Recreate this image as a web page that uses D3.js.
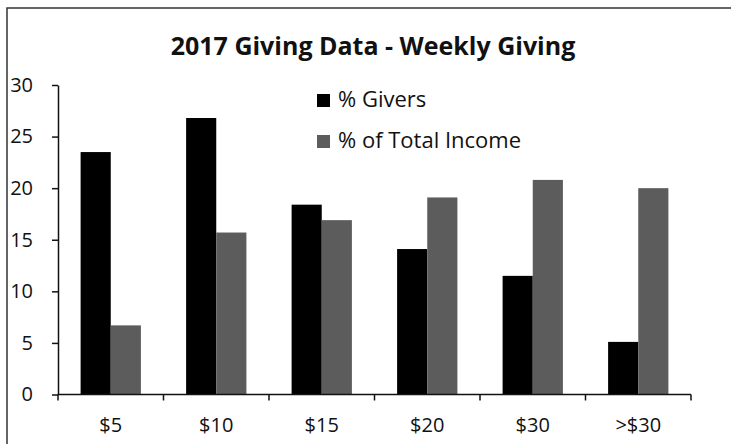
<!DOCTYPE html>
<html>
<head>
<meta charset="utf-8">
<script src="https://cdn.jsdelivr.net/npm/d3@7"></script>
<style>
  body { margin: 0; background: #fff; }
  svg { display: block; font-family: "Open Sans", sans-serif; }
  .axis path, .axis line { stroke: #111; stroke-width: 1.5px; }
  .axis text { font-family: "Open Sans", sans-serif; font-size: 20px; fill: #111; }
</style>
</head>
<body>
<svg class="giving-chart"></svg>
<script>
var categories = ["$5", "$10", "$15", "$20", "$30", ">$30"];
var seriesNames = ["% Givers", "% of Total Income"];
var givers = [23.5, 26.8, 18.4, 14.1, 11.5, 5.1];
var income = [6.7, 15.7, 16.9, 19.1, 20.8, 20.0];
var yTicks = [0, 5, 10, 15, 20, 25, 30];
var colors = ["#000000", "#5c5c5c"];

drawGiving();

function drawGiving() {
  var width = 731, height = 444;
  var left = 58, right = 691, top = 85, bottom = 394.5;

  var svg = d3.select(".giving-chart")
    .attr("width", width)
    .attr("height", height);

  // frame (scan shows only top and left edges)
  svg.append("path")
    .attr("d", "M7,444V8H731")
    .attr("fill", "none")
    .attr("stroke", "#333")
    .attr("stroke-width", 1.5);

  var x = d3.scaleBand().domain(categories).range([left, right]);
  var x1 = d3.scaleBand().domain(seriesNames).range([0, x.bandwidth()])
    .paddingInner(0).paddingOuter(0.75);
  var y = d3.scaleLinear().domain([0, 30]).range([bottom, top]);

  var rows = categories.map(function(c, i) {
    return { cat: c, values: [givers[i], income[i]] };
  });

  var groups = svg.append("g").selectAll("g")
    .data(rows)
    .enter().append("g")
    .attr("transform", function(d) { return "translate(" + x(d.cat) + ",0)"; });

  groups.selectAll("rect")
    .data(function(d) { return d.values.map(function(v, j) { return { s: seriesNames[j], v: v, j: j }; }); })
    .enter().append("rect")
    .attr("x", function(d) { return x1(d.s); })
    .attr("width", x1.bandwidth())
    .attr("y", function(d) { return y(d.v); })
    .attr("height", function(d) { return y(0) - y(d.v); })
    .attr("fill", function(d) { return colors[d.j]; });

  // y axis
  svg.append("g")
    .attr("class", "axis")
    .attr("transform", "translate(" + left + ",0)")
    .call(d3.axisLeft(y).tickValues(yTicks).tickSize(6).tickSizeOuter(0).tickPadding(19));

  // x axis: labels centred, ticks on category boundaries
  var xAxis = svg.append("g")
    .attr("class", "axis")
    .attr("transform", "translate(0," + bottom + ")")
    .call(d3.axisBottom(x).tickSize(0).tickPadding(23));
  xAxis.select(".domain").attr("d", "M" + left + ",0H" + right);

  var bounds = categories.map(function(c) { return x(c); }).concat([x(categories[categories.length - 1]) + x.bandwidth()]);
  xAxis.selectAll(".bound")
    .data(bounds)
    .enter().append("line")
    .attr("class", "bound")
    .attr("x1", function(d) { return d; })
    .attr("x2", function(d) { return d; })
    .attr("y1", 0)
    .attr("y2", 6);

  // title
  svg.append("text")
    .attr("x", 373)
    .attr("y", 55)
    .attr("text-anchor", "middle")
    .style("font-size", "25px")
    .style("font-weight", "bold")
    .attr("fill", "#111")
    .text("2017 Giving Data - Weekly Giving");

  // legend
  var legend = svg.append("g").selectAll("g")
    .data(seriesNames)
    .enter().append("g")
    .attr("transform", function(d, i) { return "translate(317," + (94 + i * 41) + ")"; });

  legend.append("rect")
    .attr("width", 13)
    .attr("height", 13)
    .attr("fill", function(d, i) { return colors[i]; });

  legend.append("text")
    .attr("x", 21)
    .attr("y", 13)
    .style("font-size", "22px")
    .attr("fill", "#111")
    .text(function(d) { return d; });
}
</script>
</body>
</html>
